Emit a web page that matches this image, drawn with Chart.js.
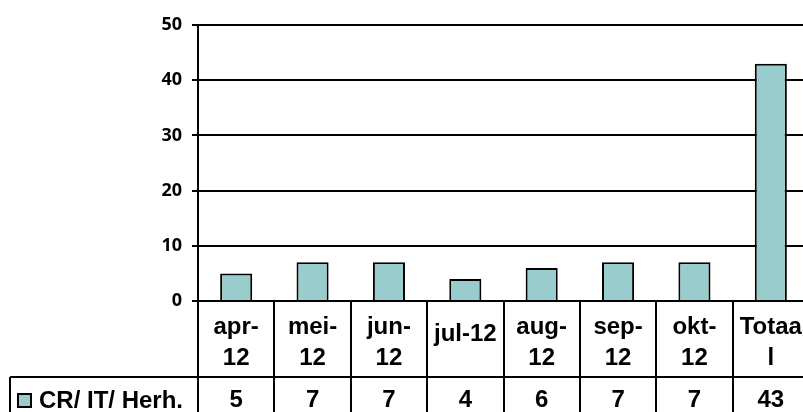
<!DOCTYPE html>
<html>
<head>
<meta charset="utf-8">
<script src="https://cdn.jsdelivr.net/npm/chart.js@4/dist/chart.umd.min.js"></script>
<style>
  html, body { margin: 0; padding: 0; background: #fff; overflow: hidden; }
  #wrap { width: 803px; height: 412px; overflow: hidden; position: relative; }
  canvas { display: block; }
</style>
</head>
<body>
<div id="wrap"><canvas id="c" width="812" height="412"></canvas></div>
<script>
// ---- data ----
const categories = ['apr-12', 'mei-12', 'jun-12', 'jul-12', 'aug-12', 'sep-12', 'okt-12', 'Totaal'];
const categoryLabelLines = [['apr-', '12'], ['mei-', '12'], ['jun-', '12'], ['jul-12'], ['aug-', '12'], ['sep-', '12'], ['okt-', '12'], ['Totaa', 'l']];
const seriesName = 'CR/ IT/ Herh.';
const seriesValues = [5, 7, 7, 4, 6, 7, 7, 43];
const yTicks = [0, 10, 20, 30, 40, 50];

const barFill = '#99CCCC';
const tableFont = 'bold 24px "Liberation Sans", Arial, sans-serif';

const dataTablePlugin = {
  id: 'dataTable',
  afterDraw(chart) {
    const ctx = chart.ctx;
    const area = chart.chartArea;
    const xs = chart.scales.x;
    const n = categories.length;
    const catW = (area.right - area.left) / n;
    const rowSplit = 377;
    const bottom = chart.height + 10;
    ctx.save();
    ctx.strokeStyle = '#000';
    ctx.lineWidth = 2;
    // vertical dividers
    ctx.beginPath();
    for (let i = 0; i <= n; i++) {
      const x = Math.round(xs.getPixelForValue(i) - catW / 2);
      ctx.moveTo(x, area.bottom);
      ctx.lineTo(x, bottom);
    }
    // horizontal row separator
    ctx.moveTo(10, rowSplit);
    ctx.lineTo(area.right + 5, rowSplit);
    // legend cell left border
    ctx.moveTo(10, rowSplit);
    ctx.lineTo(10, bottom);
    ctx.stroke();

    // category labels
    ctx.fillStyle = '#000';
    ctx.font = tableFont;
    ctx.textAlign = 'center';
    ctx.textBaseline = 'alphabetic';
    categoryLabelLines.forEach((lines, i) => {
      const cx = xs.getPixelForValue(i);
      if (lines.length === 1) {
        ctx.fillText(lines[0], cx, 341);
      } else {
        ctx.fillText(lines[0], cx, 334);
        ctx.fillText(lines[1], cx, 365);
      }
    });
    // values row
    seriesValues.forEach((v, i) => {
      ctx.fillText(String(v), xs.getPixelForValue(i), 407);
    });
    // legend key
    ctx.fillStyle = barFill;
    ctx.fillRect(18, 394, 13, 13);
    ctx.lineWidth = 2;
    ctx.strokeRect(18, 394, 13, 13);
    ctx.fillStyle = '#000';
    ctx.textAlign = 'left';
    ctx.fillText(seriesName, 39, 408);
    ctx.restore();
  }
};

new Chart(document.getElementById('c'), {
  type: 'bar',
  data: {
    labels: categories,
    datasets: [{
      label: seriesName,
      data: seriesValues,
      backgroundColor: barFill,
      borderColor: '#000',
      borderWidth: 2,
      barPercentage: 0.42,
      categoryPercentage: 1.0
    }]
  },
  options: {
    responsive: false,
    animation: false,
    devicePixelRatio: 1,
    layout: { padding: { top: 25, bottom: 111, left: 0, right: 3 } },
    plugins: { legend: { display: false }, tooltip: { enabled: false } },
    scales: {
      x: { display: false },
      y: {
        min: 0,
        max: 50,
        afterFit(s) { s.width = 198; },
        afterBuildTicks(s) { s.ticks = yTicks.map(v => ({ value: v })); },
        ticks: {
          color: '#000',
          padding: 10,
          font: { family: '"Open Sans", sans-serif', weight: 'bold', size: 18 }
        },
        grid: { color: '#000', lineWidth: 2, tickLength: 6, tickColor: '#000', tickWidth: 2 },
        border: { color: '#000', width: 2 }
      }
    }
  },
  plugins: [dataTablePlugin]
});
</script>
</body>
</html>
